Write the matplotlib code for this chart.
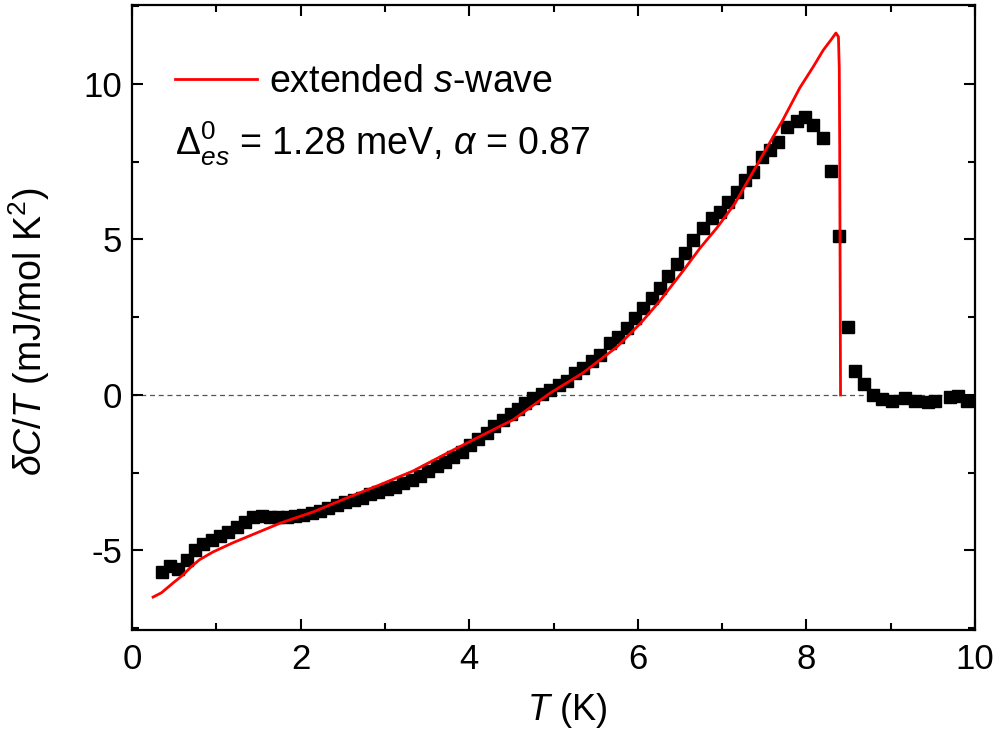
import matplotlib.pyplot as plt
from matplotlib.ticker import MultipleLocator

plt.rcParams['font.family'] = ['Liberation Sans', 'DejaVu Sans']
plt.rcParams['mathtext.fontset'] = 'custom'
plt.rcParams['mathtext.rm'] = 'Liberation Sans'
plt.rcParams['mathtext.it'] = 'Liberation Sans:italic'
plt.rcParams['axes.unicode_minus'] = False

# measured dC/T data (squares)
T_data = [0.36, 0.45, 0.55, 0.65, 0.75, 0.84, 0.95, 1.04, 1.14, 1.25,
          1.34, 1.44, 1.54, 1.64, 1.73, 1.84, 1.93, 2.03, 2.13, 2.23,
          2.33, 2.43, 2.53, 2.63, 2.73, 2.82, 2.92, 3.02, 3.12, 3.22,
          3.32, 3.42, 3.51, 3.62, 3.71, 3.81, 3.91, 4.01, 4.10, 4.21,
          4.30, 4.40, 4.50, 4.58, 4.66, 4.76, 4.86, 4.96, 5.06, 5.16,
          5.26, 5.35, 5.46, 5.55, 5.67, 5.77, 5.87, 5.97, 6.06, 6.17,
          6.26, 6.36, 6.47, 6.56, 6.66, 6.77, 6.88, 6.98, 7.07, 7.18,
          7.27, 7.37, 7.47, 7.57, 7.66, 7.77, 7.89, 7.98, 8.08, 8.20,
          8.29, 8.39, 8.49, 8.58, 8.68, 8.79, 8.90, 9.02, 9.17, 9.29,
          9.44, 9.53, 9.70, 9.80, 9.90]
dC_data = [-5.69, -5.50, -5.60, -5.30, -5.00, -4.78, -4.65, -4.55, -4.40, -4.24,
           -4.08, -3.93, -3.90, -3.91, -3.92, -3.91, -3.88, -3.86, -3.80, -3.74,
           -3.63, -3.55, -3.45, -3.37, -3.30, -3.20, -3.12, -3.02, -2.95, -2.82,
           -2.72, -2.60, -2.45, -2.30, -2.14, -1.98, -1.82, -1.60, -1.42, -1.22,
           -1.00, -0.80, -0.60, -0.44, -0.27, -0.10, 0.02, 0.16, 0.32, 0.46,
           0.72, 0.88, 1.08, 1.30, 1.68, 1.88, 2.15, 2.48, 2.80, 3.12,
           3.44, 3.82, 4.20, 4.58, 4.98, 5.37, 5.69, 5.88, 6.20, 6.53,
           6.91, 7.17, 7.65, 7.88, 8.13, 8.62, 8.80, 8.95, 8.68, 8.26,
           7.20, 5.11, 2.19, 0.77, 0.35, 0.00, -0.14, -0.20, -0.10, -0.20,
           -0.22, -0.20, -0.06, -0.03, -0.20]

# extended s-wave fit (red line)
T_fit = [0.25, 0.35, 0.49, 0.60, 0.70, 0.80, 0.96, 1.20, 1.36, 1.76,
         2.15, 2.55, 2.94, 3.33, 3.81, 4.21, 4.52, 4.96, 5.35, 5.75,
         6.03, 6.14, 6.26, 6.54, 6.74, 6.94, 7.15, 7.33, 7.55, 7.72,
         7.92, 8.08, 8.20, 8.30, 8.35, 8.38, 8.39, 8.395, 8.40, 8.405]
dC_fit = [-6.50, -6.36, -6.04, -5.80, -5.53, -5.30, -5.05, -4.75, -4.57, -4.12,
          -3.76, -3.31, -2.89, -2.45, -1.77, -1.22, -0.80, 0.06, 0.71, 1.54,
          2.30, 2.64, 3.02, 4.00, 4.73, 5.38, 6.15, 7.00, 8.04, 8.84,
          9.87, 10.55, 11.09, 11.45, 11.64, 11.52, 10.50, 8.00, 4.00, 0.00]

fig = plt.figure(figsize=(10, 7.53), dpi=100)
ax = fig.add_axes([0.132, 0.1633, 0.843, 0.830])

ax.axhline(0, color='#555555', lw=0.9, ls=(0, (4, 3)), zorder=1)
ax.plot(T_data, dC_data, 's', color='black', ms=9, zorder=2)
ax.plot(T_fit, dC_fit, '-', color='#ff0000', lw=2, zorder=3,
        label='extended $s$-wave')

ax.set_xlim(0, 10)
ax.set_ylim(-7.56, 12.54)
ax.xaxis.set_major_locator(MultipleLocator(2))
ax.xaxis.set_minor_locator(MultipleLocator(1))
ax.yaxis.set_major_locator(MultipleLocator(5))
ax.yaxis.set_minor_locator(MultipleLocator(2.5))
ax.tick_params(which='both', direction='in', top=True, right=True, width=1.5,
               labelsize=25)
ax.tick_params(axis='x', pad=9)
ax.tick_params(axis='y', pad=7)
ax.tick_params(which='major', length=8)
ax.tick_params(which='minor', length=5)
for s in ax.spines.values():
    s.set_linewidth(1.6)

ax.set_xlabel('$T$ (K)', fontsize=26)
ax.xaxis.set_label_coords(0.516, -0.097)
ax.set_ylabel(r'$\delta C/T$ (mJ/mol K$^2$)', fontsize=27)
ax.yaxis.set_label_coords(-0.095, 0.478)

ax.legend(loc='center left', bbox_to_anchor=(0.051, 0.877), frameon=False,
          fontsize=27, handlelength=2.2, handletextpad=0.3,
          borderpad=0, borderaxespad=0)
ax.text(0.051, 0.76, r'$\Delta_{es}^{0}$ = 1.28 meV, $\alpha$ = 0.87',
        transform=ax.transAxes, fontsize=27, va='baseline')

plt.savefig('out.png')
